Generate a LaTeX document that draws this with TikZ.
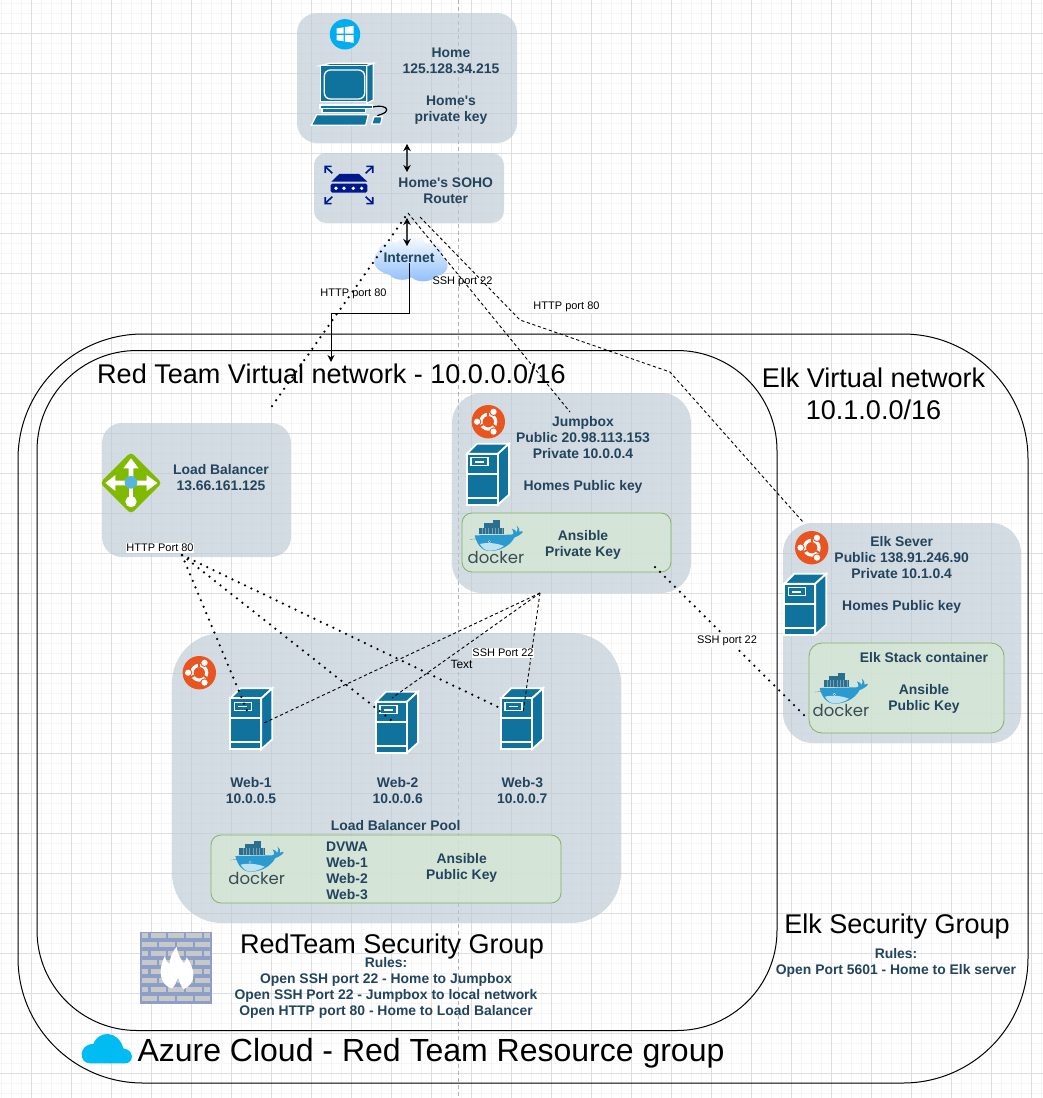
\documentclass[tikz,border=0pt]{standalone}
\usepackage{fontspec}
\setmainfont{Liberation Sans}
\newfontfamily\plainfont{Liberation Sans}
\newfontfamily\dockerfont{Poppins}
\usetikzlibrary{arrows.meta}
\definecolor{txtblue}{HTML}{23445D}
\definecolor{panelblue}{HTML}{BAC8D3}
\definecolor{srvblue}{HTML}{10739E}
\definecolor{ubuorange}{HTML}{E95420}
\definecolor{navyicon}{HTML}{00188D}
\definecolor{dockdark}{HTML}{394D54}
\definecolor{greenfill}{HTML}{D5E8D4}
\definecolor{greenline}{HTML}{82B366}
\definecolor{lbgreen}{HTML}{7FBA00}
\definecolor{lbblue}{HTML}{59B4D9}
\definecolor{fwblue}{HTML}{8C9FC9}
\definecolor{fwgrey}{HTML}{C8C8C8}
\definecolor{azureblue}{HTML}{00BCF2}
\definecolor{cloudblue}{HTML}{8CBDFA}
\definecolor{winblue}{HTML}{00ADEF}
\definecolor{whaleblue}{HTML}{2A9BD0}
\definecolor{boxblue}{HTML}{2B6F8E}
\definecolor{bellyblue}{HTML}{BFE2F0}
\tikzset{
  panel/.style={fill=panelblue,fill opacity=.62,draw=none,inner sep=0pt,rounded corners=#1},
  greenpanel/.style={fill=greenfill,draw=greenline,line width=.8pt,fill opacity=.75,inner sep=0pt,rounded corners=#1},
  frame/.style={draw=black,line width=1pt,fill=none,inner sep=0pt,rounded corners=#1},
  lbl/.style={font=\plainfont\fontsize{13.9}{16}\selectfont\bfseries,text=txtblue,align=center,inner sep=0pt,yshift=-1.5pt},
  title/.style={font=\fontsize{#1}{32}\selectfont,text=black,align=center,inner sep=0pt},
  tag/.style={font=\fontsize{11}{13}\selectfont,text=black,inner sep=.8pt},
  tagw/.style={tag,fill=white},
  dashline/.style={draw=black,line width=.9pt,dash pattern=on 3.2pt off 2.6pt},
  dotline/.style={draw=black,line width=2.5pt,line cap=round,dash pattern=on 0pt off 7pt},
  twoway/.style={draw=black!75,line width=1.2pt,{Stealth[length=7pt,width=7.5pt,black]}-{Stealth[length=7pt,width=7.5pt,black]}},
  ubuntupic/.pic={
    \fill[ubuorange] (0,0) circle (16.7);
    \draw[white,line width=3.2pt] (0,0) circle (7.4);
    \foreach \a in {62,180,298}{
      \draw[ubuorange,line width=1.8pt] (\a-28:5.5) -- (\a-28:10.5);
      \fill[ubuorange] (\a:11.2) circle (4.2);
      \fill[white] (\a:11.2) circle (3.1);
    }
  },
  serverpic/.pic={
    \begin{scope}[draw=white,line width=1.8pt,line join=miter,fill=srvblue]
      \filldraw (1,11) -- (11,1) -- (43,1) -- (32,11) -- cycle;
      \filldraw (32,11) -- (43,1) -- (43,52) -- (32,62) -- cycle;
      \filldraw (1,11) rectangle (32,62);
      \draw (1,31) -- (32,31) (1,55) -- (32,55);
      \draw[line width=1.4pt] (5,15) rectangle (22,23);
      \fill[white] (9,18.2) rectangle (18,19.8);
    \end{scope}
  },
  dockerpic/.pic={
    \begin{scope}[x=.3333pt,y=-.3333pt]
      \fill[black!70] (0,58) -- (35,55) -- (35,57) -- cycle;
      \fill[boxblue] (28,23) rectangle (105,42);
      \fill[boxblue] (45,10) rectangle (92,23);
      \fill[boxblue] (72,0) rectangle (92,10);
      \foreach \q in {38,48,58,68,78,88,98}{\draw[white,opacity=.35,line width=.3pt] (\q,23) -- (\q,42);}
      \fill[whaleblue] (16,46) -- (125,44) .. controls (133,44) and (135,38) .. (128,26)
        .. controls (136,28) and (140,32) .. (142,37) .. controls (146,30) and (146,22) .. (142,17)
        .. controls (150,22) and (152,30) .. (150,36) .. controls (155,32) and (160,33) .. (161,36)
        .. controls (152,46) and (142,50) .. (136,52) .. controls (120,82) and (85,94) .. (60,93)
        .. controls (35,92) and (22,70) .. (16,46) -- cycle;
      \fill[bellyblue] (32,72) .. controls (55,66) and (85,70) .. (104,78)
        .. controls (90,88) and (72,93) .. (58,92) .. controls (45,90) and (38,82) .. (32,72) -- cycle;
      \fill[white] (60,65) circle (4);
      \fill[dockdark] (60,65) circle (2);
      \node[font=\dockerfont\fontsize{16.5}{17}\selectfont,text=dockdark,inner sep=0pt] (word) at (80,113) {docker};
    \end{scope}
  },
}
\begin{document}
\begin{tikzpicture}[x=1pt,y=-1pt]
\useasboundingbox (0,0) rectangle (1043,1098);
\fill[white] (0,0) rectangle (1043,1098);
% grid
\foreach \i in {0,...,104}{\draw[black!4,line width=.8pt] (1.7+10*\i,0) -- (1.7+10*\i,1098);}
\foreach \i in {0,...,109}{\draw[black!4,line width=.8pt] (0,3.3+10*\i) -- (1043,3.3+10*\i);}
\foreach \i in {0,...,25}{\draw[black!13,line width=.8pt] (31.7+40*\i,0) -- (31.7+40*\i,1098);}
\foreach \i in {0,...,27}{\draw[black!13,line width=.8pt] (0,33.3+40*\i) -- (1043,33.3+40*\i);}
\draw[black!30,line width=.7pt,dash pattern=on 4pt off 3pt] (458.3,0) -- (458.3,1098);

% frames
\node[frame=125pt,minimum width=1010pt,minimum height=749pt] (azure) at (523,708.5) {};
\node[frame=100pt,minimum width=740pt,minimum height=680pt] (redvnet) at (407,690.5) {};

% panels
\node[panel=20pt,minimum width=220pt,minimum height=130pt] (home) at (407,78) {};
\node[panel=12pt,minimum width=190pt,minimum height=70pt] (router) at (409,188) {};
\node[panel=20pt,minimum width=189pt,minimum height=134pt] (lb) at (196.5,490) {};
\node[panel=30pt,minimum width=239pt,minimum height=200pt] (jump) at (571.5,493) {};
\node[panel=50pt,minimum width=449pt,minimum height=290pt] (pool) at (396.5,778) {};
\node[panel=30pt,minimum width=238pt,minimum height=220pt] (elk) at (902,633) {};
\node[greenpanel=10pt,minimum width=209pt,minimum height=59pt] (jumpgreen) at (566.5,542.5) {};
\node[greenpanel=10pt,minimum width=350pt,minimum height=68pt] (poolgreen) at (386,869) {};
\node[greenpanel=13pt,minimum width=195pt,minimum height=90pt] (elkgreen) at (906.5,688) {};

% windows logo
\fill[winblue] (345,34.3) circle (15.2);
\fill[white] (336.5,28.5) -- (343.5,27.3) -- (343.5,33.6) -- (336.5,33.6) -- cycle
  (344.8,27.1) -- (353.5,25.8) -- (353.5,33.6) -- (344.8,33.6) -- cycle
  (336.5,35) -- (343.5,35) -- (343.5,41.3) -- (336.5,40.2) -- cycle
  (344.8,35) -- (353.5,35) -- (353.5,42.8) -- (344.8,41.5) -- cycle;

% computer
\begin{scope}[shift={(300,50)},x=.3333pt,y=-.3333pt,draw=white,fill=srvblue,line width=1.3pt]
  \draw[black,line width=1.2pt] (215,172) .. controls (240,165) and (262,170) .. (260,180) .. controls (258,190) and (245,192) .. (232,197);
  \filldraw (62,47) -- (90,40) -- (220,40) -- (200,47) -- cycle;
  \filldraw (200,47) -- (220,40) -- (220,150) -- (200,160) -- cycle;
  \filldraw (62,47) rectangle (200,155);
  \filldraw[rounded corners=6pt] (73,60) rectangle (194,147);
  \filldraw (60,165) rectangle (218,175);
  \filldraw (66,175) rectangle (196,187);
  \filldraw (50,194) -- (205,194) -- (197,226) -- (34,226) -- cycle;
  \filldraw (222,200) -- (247,200) -- (242,222) -- (215,222) -- cycle;
\end{scope}

% router icon
\begin{scope}[shift={(290,0)},x=.3333pt,y=-.3333pt]
  \fill[navyicon] (148,522) -- (207,522) -- (232,545) -- (124,545) -- cycle;
  \fill[navyicon,rounded corners=1.5pt] (122,551) rectangle (232,578);
  \foreach \q in {138,162,190,215}{\fill[white] (\q,565) circle (5.5);}
  \begin{scope}[navyicon,line width=1.6pt,-{Straight Barb[length=4.5pt,width=9pt]}]
    \draw (127,520) -- (103,497);
    \draw (227,520) -- (251,497);
    \draw (127,590) -- (103,613);
    \draw (227,590) -- (251,613);
  \end{scope}
\end{scope}

% load balancer icon
\begin{scope}[shift={(90,390)},x=.3333pt,y=-.3333pt]
  \fill[lbgreen,rounded corners=4pt] (123,186) -- (216,279) -- (123,372) -- (30,279) -- cycle;
  \fill[white] (116,279) -- (116,235) -- (100,235) -- (123,205) -- (146,235) -- (130,235) -- (130,279) -- cycle;
  \fill[white] (123,272) -- (170,272) -- (170,255) -- (202,279) -- (170,303) -- (170,286) -- (123,286) -- cycle;
  \fill[white] (123,272) -- (76,272) -- (76,255) -- (46,279) -- (76,303) -- (76,286) -- (123,286) -- cycle;
  \fill[white] (116,279) rectangle (130,330);
  \fill[white] (123,335) circle (17);
  \fill[lbblue] (123,277) circle (19);
\end{scope}

% firewall
\begin{scope}[shift={(60,920)},x=.3333pt,y=-.3333pt]
  \fill[fwblue] (240,37) rectangle (456,252);
  \foreach \r in {0,2,4,6}{
    \foreach \a/\b in {246/265,272/318,325/371,378/425,432/451}{
      \fill[fwgrey] (\a,40+27*\r) rectangle (\b,54+27*\r);
    }
  }
  \foreach \r in {1,3,5,7}{
    \foreach \a/\b in {246/292,298/345,352/398,405/451}{
      \fill[fwgrey] (\a,40+27*\r) rectangle (\b,54+27*\r);
    }
  }
  \fill[white] (335,205) .. controls (300,195) and (292,150) .. (315,108)
    .. controls (318,120) and (320,128) .. (328,132) .. controls (330,112) and (338,95) .. (350,80)
    .. controls (352,100) and (362,118) .. (372,130) .. controls (375,125) and (378,120) .. (380,112)
    .. controls (405,145) and (412,190) .. (370,208) .. controls (362,195) and (358,185) .. (354,172)
    .. controls (350,185) and (345,198) .. (335,205) -- cycle;
\end{scope}

% azure cloud
\begin{scope}[shift={(60,920)},x=.3333pt,y=-.3333pt]
  \fill[azureblue] (90,430) .. controls (55,430) and (55,372) .. (100,372)
    .. controls (115,330) and (175,330) .. (190,385) .. controls (225,390) and (222,430) .. (195,430) -- cycle;
\end{scope}

% ubuntu and servers
\pic (ubuA) at (488.3,421.7) {ubuntupic};
\pic (ubuB) at (199.3,672.7) {ubuntupic};
\pic (ubuC) at (811.7,547.7) {ubuntupic};
\pic (srvJump) at (466,442.7) {serverpic};
\pic (srvWebA) at (229.3,687.3) {serverpic};
\pic (srvWebB) at (375,690.7) {serverpic};
\pic (srvWebC) at (500,687.3) {serverpic};
\pic (srvElk) at (783.3,572.7) {serverpic};
\pic (dockA) at (469.3,520) {dockerpic};
\pic (dockB) at (230,840.7) {dockerpic};
\pic (dockC) at (814.3,672.7) {dockerpic};

% internet cloud
\begin{scope}[shift={(290,0)},x=.3333pt,y=-.3333pt]
  \shade[top color=white,bottom color=cloudblue] (275,815) .. controls (250,805) and (245,770) .. (265,755)
    .. controls (262,735) and (300,720) .. (320,728) .. controls (345,700) and (395,705) .. (405,730)
    .. controls (440,725) and (465,745) .. (455,770) .. controls (485,785) and (475,825) .. (440,828)
    .. controls (420,850) and (380,848) .. (365,832) .. controls (345,845) and (310,840) .. (300,825)
    .. controls (290,825) and (282,820) .. (275,815) -- cycle;
\end{scope}
\node[lbl] (internet) at (409,256) {Internet};

% connector ends
\coordinate (homeport) at (407,144);
\coordinate (routertop) at (407,172);
\coordinate (routerlow) at (407,218);
\coordinate (netin) at (407,246);
\coordinate (netout) at (409,263);
\coordinate (vnetin) at (331,362);
\coordinate (apex) at (408,213);
\coordinate (lbtop) at (272,406);
\coordinate (jumptop) at (570,412);
\coordinate (httpstart) at (420,217);
\coordinate (httpa) at (520,320);
\coordinate (httpb) at (670,372);
\coordinate (elktop) at (803,522);
\coordinate (lbout) at (182,555);
\coordinate (webAa) at (248,713);
\coordinate (webBa) at (391,720);
\coordinate (webCa) at (500,708);
\coordinate (jumpout) at (540,593);
\coordinate (webAb) at (264,723);
\coordinate (webBb) at (392,698);
\coordinate (webCb) at (523,713);
\coordinate (jumpkey) at (655,567);
\coordinate (elkkey) at (808,719);

% connectors
\draw[twoway] (homeport) -- (routertop);
\draw[twoway] (routerlow) -- (netin);
\draw[black,line width=1pt,-{Stealth[length=7pt,width=7pt]}] (netout) -- (409,313) -- (331,313) -- (vnetin);
\draw[dotline] (lbtop) -- (apex);
\draw[dashline] (apex) -- (jumptop);
\draw[dashline] (httpstart) -- (httpa) -- (httpb) -- (elktop);
\draw[dotline] (lbout) -- (webAa);
\draw[dotline] (lbout) -- (webBa);
\draw[dotline] (lbout) -- (webCa);
\draw[dashline] (jumpout) -- (webAb);
\draw[dashline] (jumpout) -- (webBb);
\draw[dashline] (jumpout) -- (webCb);
\draw[dotline] (jumpkey) -- (elkkey);

% connector labels
\node[tag] (httpleft) at (353.5,294) {HTTP port 80};
\node[tag] (sshtop) at (462.5,282) {SSH port 22};
\node[tagw] (httpright) at (566.5,307) {HTTP port 80};
\node[tagw] (httplb) at (160,548) {HTTP Port 80};
\node[tagw] (sshweb) at (503,653) {SSH Port 22};
\node[tag,font=\fontsize{12}{14}\selectfont] (textlab) at (461.5,664) {Text};
\node[tagw] (sshelk) at (727,641) {SSH port 22};

% text
\node[lbl] (hometxt) at (451,84.3) {Home\\125.128.34.215\\[16pt]Home's\\private key};
\node[lbl] (routertxt) at (445.7,189) {Home's SOHO\\Router};
\node[lbl] (lbtxt) at (221,476) {Load Balancer\\13.66.161.125};
\node[lbl] (jumptxt) at (583,453) {Jumpbox\\Public 20.98.113.153\\Private 10.0.0.4\\[16pt]Homes Public key};
\node[lbl] (jumpgtxt) at (583,543) {Ansible\\Private Key};
\node[lbl] (elktxt) at (901.7,573) {Elk Sever\\Public 138.91.246.90\\Private 10.1.0.4\\[16pt]Homes Public key};
\node[lbl] (elkgtxt) at (924,681) {Elk Stack container\\[16pt]Ansible\\Public Key};
\node[lbl] (webAtxt) at (251,789) {Web-1\\10.0.0.5};
\node[lbl] (webBtxt) at (397.7,789) {Web-2\\10.0.0.6};
\node[lbl] (webCtxt) at (522.3,789) {Web-3\\10.0.0.7};
\node[lbl] (pooltxt) at (395.7,824) {Load Balancer Pool};
\node[lbl] (dvwatxt) at (347,869) {DVWA\\Web-1\\Web-2\\Web-3};
\node[lbl] (poolgtxt) at (461.7,866) {Ansible\\Public Key};
\node[lbl] (redrules) at (386,986) {Rules:\\Open SSH port 22 - Home to Jumpbox\\Open SSH Port 22 - Jumpbox to local network\\Open HTTP port 80 - Home to Load Balancer};
\node[lbl] (elkrules) at (896,961) {Rules:\\Open Port 5601 - Home to Elk server};

% titles
\node[title=27.05] (redtitle) at (331.5,374) {Red Team Virtual network - 10.0.0.0/16};
\node[title=27.05] (elktitle) at (873.5,394) {Elk Virtual network\\10.1.0.0/16};
\node[title=27.05] (redsec) at (392,946.5) {RedTeam Security Group};
\node[title=27.05] (elksec) at (897,926) {Elk Security Group};
\node[title=32] (azuretxt) at (431,1053) {Azure Cloud - Red Team Resource group};
\end{tikzpicture}
\end{document}
